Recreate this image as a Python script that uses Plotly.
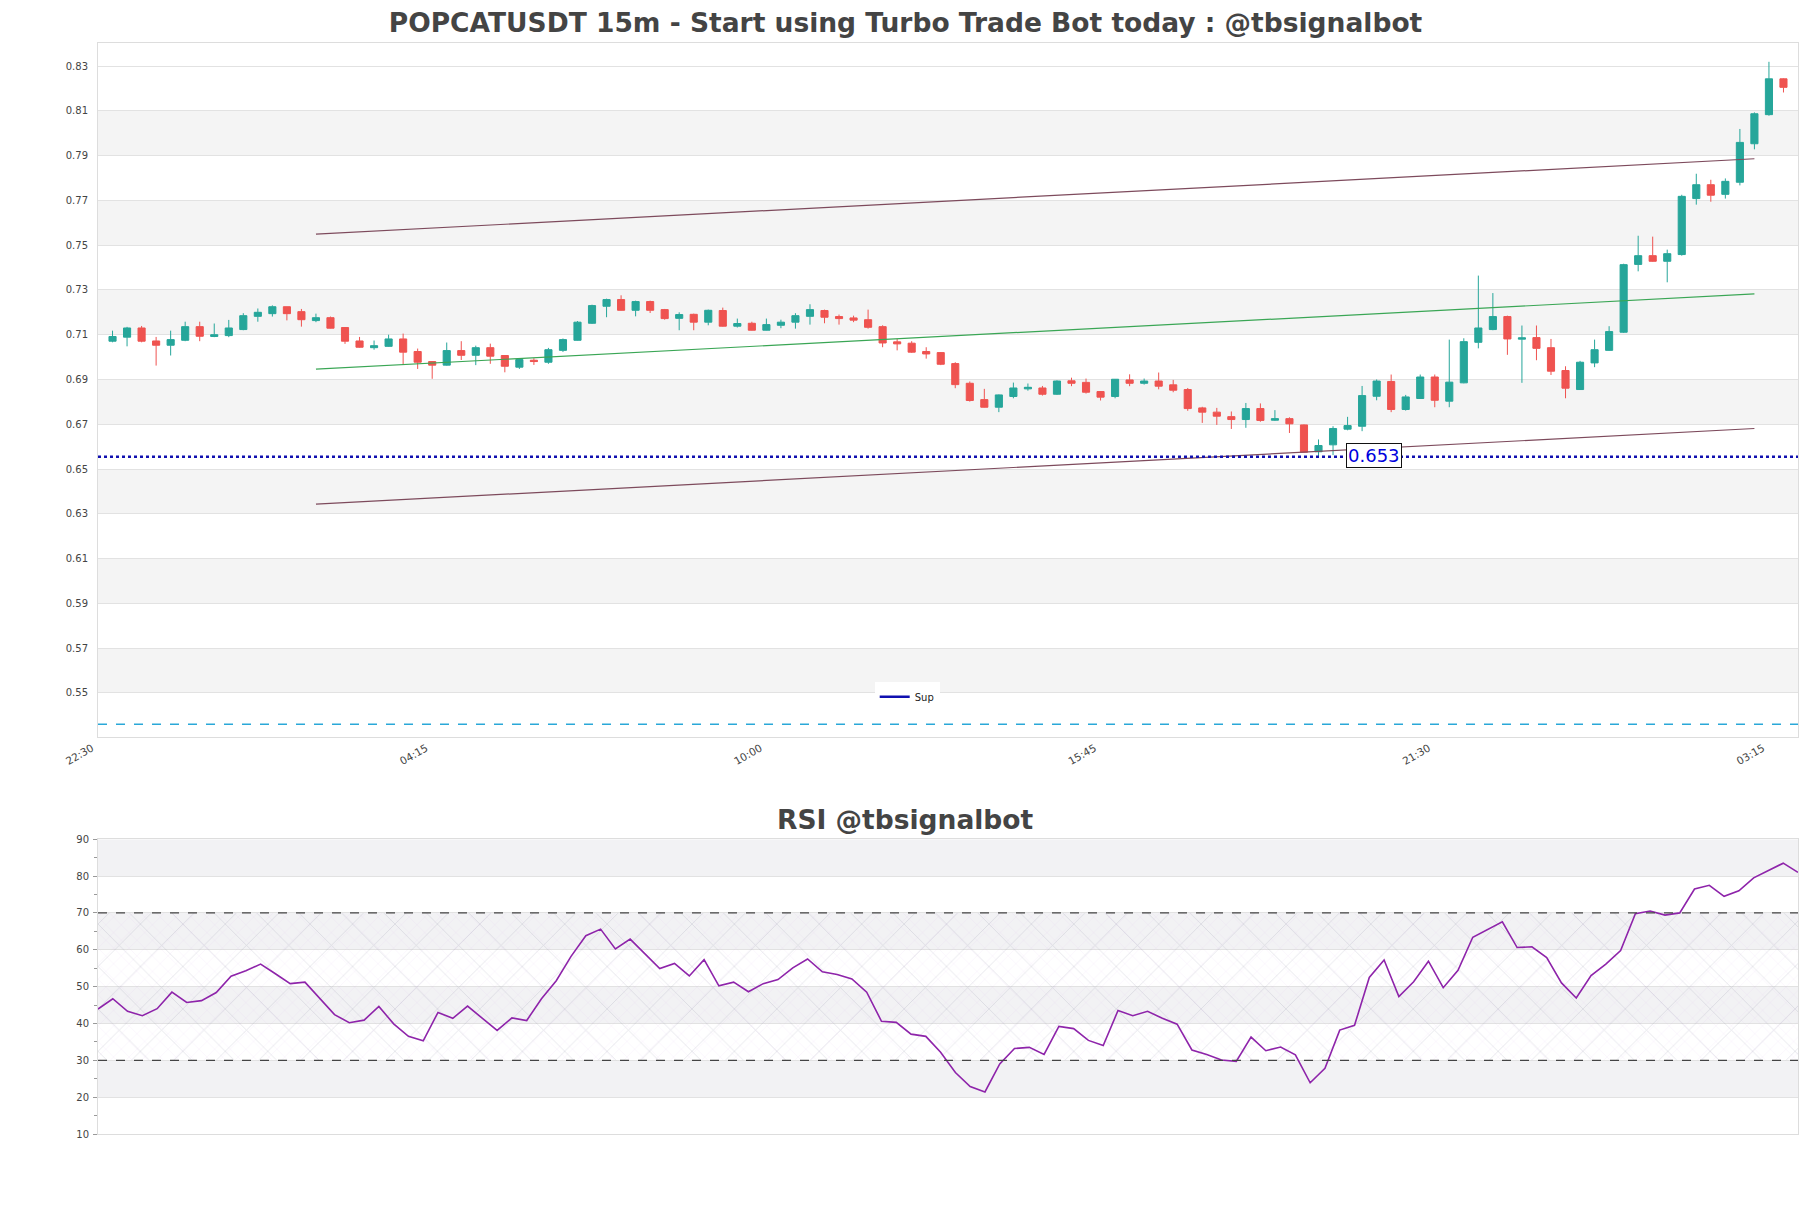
import pandas as pd
import plotly.graph_objects as go

# 15m candles, POPCATUSDT
times = pd.date_range("2024-06-01 22:45", periods=116, freq="15min")

opens = [0.7071, 0.7089, 0.7130, 0.7072, 0.7053, 0.7075, 0.7136, 0.7092, 0.7096, 0.7123,
         0.7182, 0.7194, 0.7225, 0.7203, 0.7163, 0.7176, 0.7132, 0.7072, 0.7042, 0.7048,
         0.7081, 0.7025, 0.6980, 0.6964, 0.7029, 0.7008, 0.7042, 0.7007, 0.6955, 0.6986,
         0.6977, 0.7030, 0.7075, 0.7151, 0.7227, 0.7257, 0.7209, 0.7248, 0.7212, 0.7173,
         0.7191, 0.7156, 0.7208, 0.7138, 0.7151, 0.7120, 0.7142, 0.7156, 0.7182, 0.7208,
         0.7181, 0.7175, 0.7167, 0.7136, 0.7068, 0.7062, 0.7025, 0.7020, 0.6971, 0.6883,
         0.6810, 0.6776, 0.6824, 0.6858, 0.6862, 0.6834, 0.6894, 0.6887, 0.6846, 0.6824,
         0.6898, 0.6883, 0.6893, 0.6876, 0.6855, 0.6773, 0.6754, 0.6734, 0.6721, 0.6770,
         0.6718, 0.6725, 0.6697, 0.6577, 0.6608, 0.6678, 0.6691, 0.6825, 0.6891, 0.6766,
         0.6815, 0.6911, 0.6803, 0.6885, 0.7066, 0.7123, 0.7181, 0.7080, 0.7087, 0.7042,
         0.6940, 0.6855, 0.6974, 0.7030, 0.7111, 0.7414, 0.7453, 0.7428, 0.7458, 0.7708,
         0.7770, 0.7727, 0.7781, 0.7953, 0.8083, 0.8243]
highs = [0.7118, 0.7135, 0.7139, 0.7090, 0.7118, 0.7158, 0.7158, 0.7150, 0.7166, 0.7196,
         0.7217, 0.7231, 0.7225, 0.7215, 0.7194, 0.7181, 0.7134, 0.7090, 0.7074, 0.7100,
         0.7105, 0.7038, 0.6982, 0.7065, 0.7071, 0.7051, 0.7060, 0.7009, 0.6991, 0.6995,
         0.7041, 0.7083, 0.7161, 0.7234, 0.7261, 0.7276, 0.7252, 0.7252, 0.7215, 0.7200,
         0.7194, 0.7212, 0.7221, 0.7172, 0.7158, 0.7172, 0.7167, 0.7196, 0.7236, 0.7212,
         0.7190, 0.7185, 0.7212, 0.7142, 0.7081, 0.7071, 0.7044, 0.7022, 0.6977, 0.6891,
         0.6858, 0.6833, 0.6886, 0.6882, 0.6871, 0.6896, 0.6908, 0.6904, 0.6848, 0.6902,
         0.6923, 0.6904, 0.6931, 0.6898, 0.6862, 0.6778, 0.6773, 0.6757, 0.6795, 0.6793,
         0.6763, 0.6731, 0.6699, 0.6632, 0.6691, 0.6733, 0.6871, 0.6900, 0.6922, 0.6831,
         0.6922, 0.6922, 0.7078, 0.7084, 0.7364, 0.7286, 0.7185, 0.7141, 0.7141, 0.7081,
         0.6959, 0.6983, 0.7078, 0.7138, 0.7417, 0.7542, 0.7538, 0.7480, 0.7725, 0.7819,
         0.7792, 0.7798, 0.8019, 0.8093, 0.8319, 0.8245]
lows = [0.7066, 0.7048, 0.7066, 0.6962, 0.7007, 0.7071, 0.7071, 0.7089, 0.7089, 0.7120,
        0.7158, 0.7181, 0.7164, 0.7136, 0.7156, 0.7128, 0.7059, 0.7042, 0.7033, 0.7046,
        0.6965, 0.6947, 0.6903, 0.6962, 0.6987, 0.6964, 0.6970, 0.6932, 0.6947, 0.6965,
        0.6970, 0.7023, 0.7074, 0.7148, 0.7178, 0.7208, 0.7182, 0.7197, 0.7167, 0.7120,
        0.7120, 0.7142, 0.7136, 0.7132, 0.7119, 0.7119, 0.7129, 0.7127, 0.7145, 0.7151,
        0.7145, 0.7156, 0.7127, 0.7044, 0.7030, 0.7019, 0.6993, 0.6964, 0.6861, 0.6801,
        0.6775, 0.6754, 0.6816, 0.6850, 0.6828, 0.6831, 0.6870, 0.6837, 0.6806, 0.6816,
        0.6870, 0.6877, 0.6856, 0.6843, 0.6760, 0.6706, 0.6697, 0.6679, 0.6684, 0.6711,
        0.6715, 0.6661, 0.6573, 0.6557, 0.6562, 0.6673, 0.6669, 0.6807, 0.6754, 0.6761,
        0.6813, 0.6776, 0.6776, 0.6883, 0.7039, 0.7120, 0.7010, 0.6885, 0.6986, 0.6920,
        0.6816, 0.6853, 0.6955, 0.7028, 0.7108, 0.7383, 0.7426, 0.7334, 0.7453, 0.7681,
        0.7694, 0.7708, 0.7767, 0.7928, 0.8078, 0.8182]
closes = [0.7092, 0.7130, 0.7071, 0.7053, 0.7078, 0.7136, 0.7093, 0.7100, 0.7130, 0.7185,
          0.7200, 0.7225, 0.7194, 0.7167, 0.7176, 0.7129, 0.7071, 0.7044, 0.7051, 0.7081,
          0.7022, 0.6977, 0.6964, 0.7029, 0.7008, 0.7042, 0.7004, 0.6959, 0.6989, 0.6980,
          0.7033, 0.7078, 0.7156, 0.7230, 0.7257, 0.7209, 0.7248, 0.7209, 0.7172, 0.7190,
          0.7156, 0.7209, 0.7138, 0.7150, 0.7120, 0.7145, 0.7156, 0.7185, 0.7212, 0.7178,
          0.7172, 0.7165, 0.7133, 0.7063, 0.7059, 0.7022, 0.7014, 0.6968, 0.6877, 0.6806,
          0.6776, 0.6831, 0.6862, 0.6865, 0.6834, 0.6893, 0.6883, 0.6843, 0.6821, 0.6901,
          0.6883, 0.6893, 0.6870, 0.6852, 0.6770, 0.6754, 0.6736, 0.6721, 0.6770, 0.6717,
          0.6725, 0.6702, 0.6575, 0.6605, 0.6681, 0.6694, 0.6828, 0.6893, 0.6766, 0.6822,
          0.6911, 0.6807, 0.6888, 0.7069, 0.7130, 0.7181, 0.7081, 0.7086, 0.7039, 0.6937,
          0.6861, 0.6977, 0.7033, 0.7114, 0.7413, 0.7453, 0.7428, 0.7462, 0.7718, 0.7770,
          0.7723, 0.7785, 0.7959, 0.8087, 0.8243, 0.8205]

rsi = [43.9, 46.7, 43.3, 42.1, 44.0, 48.5, 45.7, 46.2, 48.4, 52.8,
       54.3, 56.1, 53.5, 50.8, 51.2, 46.7, 42.4, 40.2, 40.9, 44.6,
       39.9, 36.5, 35.3, 43.0, 41.4, 44.7, 41.5, 38.1, 41.5, 40.8,
       46.7, 51.6, 58.2, 63.8, 65.6, 60.2, 62.9, 59.0, 54.9, 56.3,
       52.9, 57.3, 50.2, 51.2, 48.6, 50.8, 51.9, 55.1, 57.5, 54.0,
       53.3, 52.1, 48.5, 40.6, 40.3, 37.1, 36.5, 32.2, 26.7, 22.9,
       21.4, 29.0, 33.2, 33.5, 31.6, 39.2, 38.6, 35.4, 34.0, 43.5,
       42.1, 43.3, 41.4, 39.8, 32.8, 31.6, 30.1, 29.7, 36.3, 32.6,
       33.6, 31.5, 23.9, 27.8, 38.2, 39.5, 52.5, 57.2, 47.3, 51.3,
       56.9, 49.7, 54.4, 63.4, 65.6, 67.6, 60.6, 60.8, 57.9, 51.0,
       46.9, 53.0, 56.1, 59.8, 69.8, 70.5, 69.4, 70.0, 76.5, 77.5,
       74.5, 76.0, 79.5, 81.5, 83.5, 81.0]

# trend channel (start, end)
trend_x = [pd.Timestamp("2024-06-02 02:15"), pd.Timestamp("2024-06-03 03:00")]
upper_line = [0.7549, 0.7886]
mid_line = [0.6946, 0.7282]
lower_line = [0.6343, 0.6681]

support = 0.6555
support_label = "0.653"
low_level = 0.536

tick_times = pd.date_range("2024-06-01 22:30", periods=6, freq="345min")
tick_text = ["22:30", "04:15", "10:00", "15:45", "21:30", "03:15"]

x_start = pd.Timestamp("2024-06-01 22:30")
x_end = pd.Timestamp("2024-06-03 03:45")

fig = go.Figure()

fig.add_trace(go.Candlestick(
    x=times, open=opens, high=highs, low=lows, close=closes,
    increasing=dict(line=dict(color="#26a69a", width=1), fillcolor="#26a69a"),
    decreasing=dict(line=dict(color="#ef5350", width=1), fillcolor="#ef5350"),
    showlegend=False, xaxis="x", yaxis="y", hoverinfo="skip"))

for vals, col in [(upper_line, "#7d4a5c"), (mid_line, "#3aa655"), (lower_line, "#7d4a5c")]:
    fig.add_trace(go.Scatter(x=trend_x, y=vals, mode="lines",
                             line=dict(color=col, width=1.2), showlegend=False,
                             xaxis="x", yaxis="y"))

fig.add_trace(go.Scatter(x=[x_start, x_end], y=[support, support], mode="lines", name="Sup",
                         line=dict(color="#1010b0", width=2.5, dash="dot"), showlegend=False,
                         xaxis="x", yaxis="y"))
# legend entry drawn solid like the original
fig.add_trace(go.Scatter(x=[None], y=[None], mode="lines", name="Sup",
                         line=dict(color="#1010b0", width=2.5), xaxis="x", yaxis="y"))
fig.add_trace(go.Scatter(x=[x_start, x_end], y=[low_level, low_level], mode="lines",
                         line=dict(color="#2aa8d8", width=1.5, dash="dash"),
                         showlegend=False, xaxis="x", yaxis="y"))

# RSI hatch zone 30-70
t0, t1 = times[0], times[-1]
for size, colr in [(30, "rgba(120,120,150,0.45)"), (11, "rgba(190,130,215,0.5)")]:
    fig.add_trace(go.Scatter(
        x=[t0, t1, t1, t0, t0], y=[30, 30, 70, 70, 30], mode="none", fill="toself",
        fillcolor="rgba(0,0,0,0)",
        fillpattern=dict(shape="x", size=size, solidity=0.05, fgcolor=colr, fillmode="overlay"),
        showlegend=False, hoverinfo="skip", xaxis="x2", yaxis="y2"))

fig.add_trace(go.Scatter(x=times, y=rsi, mode="lines", line=dict(color="#8e24aa", width=1.6),
                         showlegend=False, xaxis="x2", yaxis="y2"))

shapes = []
for y0 in [0.55, 0.59, 0.63, 0.67, 0.71, 0.75, 0.79]:
    shapes.append(dict(type="rect", xref="x domain", yref="y", x0=0, x1=1, y0=y0, y1=y0 + 0.02,
                       fillcolor="#f4f4f4", line=dict(width=0), layer="below"))
for y0 in [20, 40, 60, 80]:
    shapes.append(dict(type="rect", xref="x2 domain", yref="y2", x0=0, x1=1, y0=y0, y1=y0 + 10,
                       fillcolor="#f2f2f4", line=dict(width=0), layer="below"))
for lvl in [30, 70]:
    shapes.append(dict(type="line", xref="x2 domain", yref="y2", x0=0, x1=1, y0=lvl, y1=lvl,
                       line=dict(color="#444", width=1.3, dash="dash")))

# page body adds an 8px offset, margins compensate for it
fig.update_layout(
    width=1811, height=1208,
    margin=dict(l=90, r=21, t=35, b=82, autoexpand=False),
    paper_bgcolor="white", plot_bgcolor="white",
    font=dict(family="DejaVu Sans", color="#444", size=10),
    title=dict(text="<b>POPCATUSDT 15m - Start using Turbo Trade Bot today : @tbsignalbot</b>",
               x=897.5 / 1811, xref="container", y=1 - 15 / 1208, yref="container",
               xanchor="center", yanchor="middle",
               font=dict(size=26.5, color="#444")),
    shapes=shapes,
    showlegend=True,
    legend=dict(x=0.476, y=0.4007, xanchor="center", yanchor="middle",
                bgcolor="white", font=dict(size=10, color="#222")),
    xaxis=dict(domain=[0, 1], anchor="y", range=[x_start, x_end], automargin=False,
               tickmode="array", tickvals=list(tick_times), ticktext=tick_text,
               tickangle=-30, tickfont=dict(size=10.5), ticklabelshift=-6, showgrid=False,
               showline=True, linecolor="#ddd", mirror=True, rangeslider=dict(visible=False)),
    yaxis=dict(domain=[0.3637, 1], anchor="x", range=[0.5302, 0.8403], automargin=False,
               tick0=0.53, dtick=0.02, tickformat=".2f", gridcolor="#e2e2e2",
               ticklabelstandoff=7,
               showline=True, linecolor="#ddd", mirror=True, zeroline=False),
    xaxis2=dict(domain=[0, 1], anchor="y2", range=[t0, t1], showticklabels=False,
                automargin=False,
                showgrid=False, showline=True, linecolor="#ddd", mirror=True),
    yaxis2=dict(domain=[0, 0.2702], anchor="x2", range=[10, 90], dtick=10, automargin=False,
                gridcolor="#e2e2e2", showline=True, linecolor="#ddd", mirror=True,
                ticks="outside", ticklen=4, tickcolor="#999", zeroline=False,
                ticklabelstandoff=2,
                minor=dict(dtick=5, ticks="outside", ticklen=3, tickcolor="#999", showgrid=False)),
    annotations=[
        dict(text="<b>RSI @tbsignalbot</b>", xref="paper", yref="paper", x=0.475, y=0.2879,
             xanchor="center", yanchor="middle", showarrow=False, font=dict(size=26.5, color="#444")),
        dict(text=support_label, xref="x", yref="y", x=pd.Timestamp("2024-06-02 20:27"),
             y=0.6562, showarrow=False, font=dict(size=18, color="#0000dd"),
             bgcolor="white", bordercolor="#111", borderwidth=1, borderpad=1),
    ],
)

fig.write_html("out.html")
